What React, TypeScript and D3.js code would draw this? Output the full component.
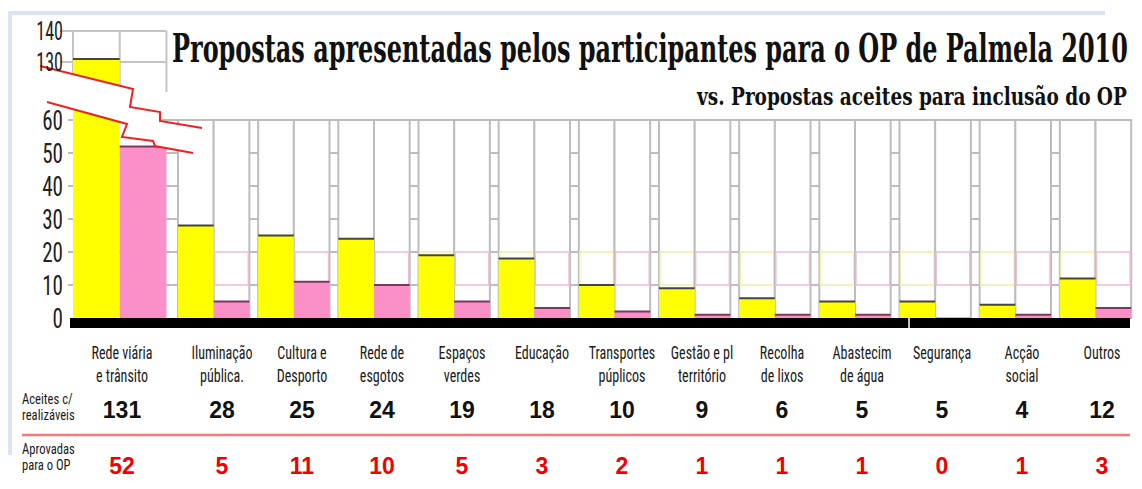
import React, { useLayoutEffect, useRef, useState } from 'react';
import * as d3 from 'd3';

// categories (two-line labels), values as printed in the table
const categories: string[][] = [
  ['Rede viária', 'e trânsito'],
  ['Iluminação', 'pública.'],
  ['Cultura e', 'Desporto'],
  ['Rede de', 'esgotos'],
  ['Espaços', 'verdes'],
  ['Educação'],
  ['Transportes', 'púplicos'],
  ['Gestão e pl', 'território'],
  ['Recolha', 'de lixos'],
  ['Abastecim', 'de água'],
  ['Segurança'],
  ['Acção', 'social'],
  ['Outros'],
];
const accepted = [131, 28, 25, 24, 19, 18, 10, 9, 6, 5, 5, 4, 12];
const approved = [52, 5, 11, 10, 5, 3, 2, 1, 1, 1, 0, 1, 3];
const lowerTicks = [0, 10, 20, 30, 40, 50, 60];
const upperTicks = [130, 140];
const rowHeads = [['Aceites c/', 'realizáveis'], ['Aprovadas', 'para o OP']];

const W = 1142;
const H = 489;
const narrow = "'Liberation Sans Narrow', 'Roboto Condensed', Roboto, sans-serif";
const YELLOW = '#ffff00';
const PINK = '#fb8fc8';

// text squeezed horizontally to a given width (measured after render)
const FitText: React.FC<{
  x: number; y: number; width: number; anchor?: 'start' | 'end';
  fontFamily: string; fontSize: number; fontWeight?: string; children: string;
}> = ({ x, y, width, anchor = 'start', fontFamily, fontSize, fontWeight, children }) => {
  const ref = useRef<SVGTextElement>(null);
  const [s, setS] = useState(1);
  useLayoutEffect(() => {
    if (ref.current) {
      const len = ref.current.getComputedTextLength();
      if (len > 0) setS(width / len);
    }
  }, [children, width]);
  const x0 = anchor === 'end' ? x - width : x;
  return (
    <g transform={`translate(${x0},${y}) scale(${s},1)`}>
      <text ref={ref} x={0} y={0} fontFamily={fontFamily} fontSize={fontSize} fontWeight={fontWeight} fill="#111">{children}</text>
    </g>
  );
};

const App: React.FC = () => {
  // group positions: first group is wider than the rest
  const xGroup = d3.scaleLinear().domain([0, 1, categories.length]).range([73, 178, 1140]);
  const groupW = (i: number) => (xGroup(i + 1) - xGroup(i)) * 0.89;
  // table column centres
  const xTable = d3.scaleLinear().domain([0, 1, categories.length - 1]).range([122, 222, 1102]);

  const y = d3.scaleLinear().domain([0, 60]).range([318, 120]);
  const yUp = d3.scaleLinear().domain([130, 140]).range([62, 31]);

  const lineGen = d3.line();
  const break1: [number, number][] = [[40, 66], [133, 89], [130, 107], [160, 112], [160, 121], [202, 128]];
  const break2: [number, number][] = [[47, 102], [127, 124], [122, 137], [153, 141], [155, 146], [193, 153]];
  const breakArea = lineGen([...break1, ...break2.slice().reverse()]) + 'Z';

  const gridRight = 1130;
  const sx = 0.78; // horizontal squeeze for the narrow labels

  return (
    <svg width={W} height={H} style={{ position: 'absolute', left: 0, top: 0, background: '#fff' }}>
      {/* frame */}
      <line x1={8} x2={1105} y1={13} y2={13} stroke="#dbe5f1" strokeWidth={4} />
      <line x1={10} x2={10} y1={12} y2={455} stroke="#dbe5f1" strokeWidth={4} />

      {/* lower panel horizontal grid */}
      {lowerTicks.slice(1).map((t) => (
        <line key={t} x1={68} x2={gridRight} y1={y(t)} y2={y(t)} stroke="#bdbdbd" strokeWidth={2} />
      ))}
      {/* upper panel grid */}
      {upperTicks.map((t) => (
        <line key={t} x1={60} x2={xGroup(0) + groupW(0)} y1={yUp(t)} y2={yUp(t)} stroke="#c4c4c4" strokeWidth={2} />
      ))}
      {[0, 0.5, 1].map((f) => (
        <line key={f} x1={xGroup(0) + groupW(0) * f} x2={xGroup(0) + groupW(0) * f} y1={yUp(140)} y2={92} stroke="#c4c4c4" strokeWidth={2} />
      ))}

      {/* column outlines */}
      {categories.map((_, i) => {
        if (i === 0) return null;
        const x0 = xGroup(i);
        const w = groupW(i) / 2;
        return (
          <g key={i}>
            {[0, 1].map((k) => (
              <g key={k}>
                <rect x={x0 + k * w} y={y(60)} width={w} height={y(0) - y(60)} fill="#fff" stroke="#bdbdbd" strokeWidth={2} />
                <rect x={x0 + k * w + 1} y={y(20)} width={w - 2} height={y(10) - y(20)} fill="none"
                  stroke={k === 0 ? '#eeeeaa' : '#efbcd5'} strokeWidth={1.5} />
              </g>
            ))}
          </g>
        );
      })}

      {/* bars */}
      {categories.map((_, i) => {
        const x0 = xGroup(i);
        const w = groupW(i) / 2;
        const yTop = i === 0 ? yUp(accepted[i]) : y(accepted[i]);
        return (
          <g key={i}>
            <rect x={x0} y={yTop} width={w} height={y(0) - yTop} fill={YELLOW} />
            <line x1={x0} x2={x0 + w} y1={yTop} y2={yTop} stroke="#444" strokeWidth={2} />
            {approved[i] > 0 && (
              <>
                <rect x={x0 + w} y={y(approved[i])} width={w} height={y(0) - y(approved[i])} fill={PINK} />
                <line x1={x0 + w} x2={x0 + 2 * w} y1={y(approved[i])} y2={y(approved[i])} stroke="#7a3a5e" strokeWidth={2} />
              </>
            )}
          </g>
        );
      })}

      {/* axis break */}
      <path d={breakArea} fill="#fff" />
      <path d={lineGen(break1) || ''} fill="none" stroke="#f02020" strokeWidth={2} />
      <path d={lineGen(break2) || ''} fill="none" stroke="#f02020" strokeWidth={2} />

      {/* baseline */}
      <rect x={70} y={y(0)} width={gridRight - 70} height={10} fill="#000" />
      <line x1={909} x2={909} y1={y(0)} y2={y(0) + 10} stroke="#fff" strokeWidth={1.5} />

      {/* y tick labels */}
      {lowerTicks.map((t) => (
        <g key={t} transform={`translate(63,${y(t) + 10}) scale(${sx},1)`}>
          <text textAnchor="end" fontFamily={narrow} fontSize={27} fill="#222">{t}</text>
        </g>
      ))}
      {upperTicks.map((t) => (
        <g key={t} transform={`translate(63,${yUp(t) + 9}) scale(0.72,1)`}>
          <text textAnchor="end" fontFamily={narrow} fontSize={25} fill="#222">{t}</text>
        </g>
      ))}

      {/* titles */}
      <FitText x={172} y={62} width={956} fontFamily="'DejaVu Serif Condensed', 'DejaVu Serif', serif"
        fontWeight="bold" fontSize={40}>Propostas apresentadas pelos participantes para o OP de Palmela 2010</FitText>
      <FitText x={1127} y={105} width={430} anchor="end" fontFamily="'DejaVu Serif Condensed', 'DejaVu Serif', serif"
        fontWeight="bold" fontSize={24}>vs. Propostas aceites para inclusão do OP</FitText>

      {/* category labels */}
      {categories.map((lines, i) => (
        <g key={i} transform={`translate(${xTable(i)},0) scale(${sx},1)`}>
          {lines.map((l, k) => (
            <text key={k} x={0} y={359 + k * 23} textAnchor="middle" fontFamily={narrow} fontSize={18} fill="#1a1a1a">{l}</text>
          ))}
        </g>
      ))}

      {/* table rows */}
      {rowHeads.map((lines, r) => (
        <g key={r} transform={`translate(22,${r === 0 ? 404 : 454}) scale(0.84,1)`}>
          {lines.map((l, k) => (
            <text key={k} x={0} y={k * 16} fontFamily={narrow} fontSize={15} fill="#1a1a1a">{l}</text>
          ))}
        </g>
      ))}
      {accepted.map((v, i) => (
        <text key={i} x={xTable(i)} y={418} textAnchor="middle" fontFamily="'Liberation Sans', Arial, sans-serif"
          fontWeight="bold" fontSize={23} fill="#111">{v}</text>
      ))}
      <line x1={22} x2={gridRight} y1={435} y2={435} stroke="#f47a7a" strokeWidth={2.5} />
      {approved.map((v, i) => (
        <text key={i} x={xTable(i)} y={474} textAnchor="middle" fontFamily="'Liberation Sans', Arial, sans-serif"
          fontWeight="bold" fontSize={23} fill="#f00000">{v}</text>
      ))}
    </svg>
  );
};

export default App;
